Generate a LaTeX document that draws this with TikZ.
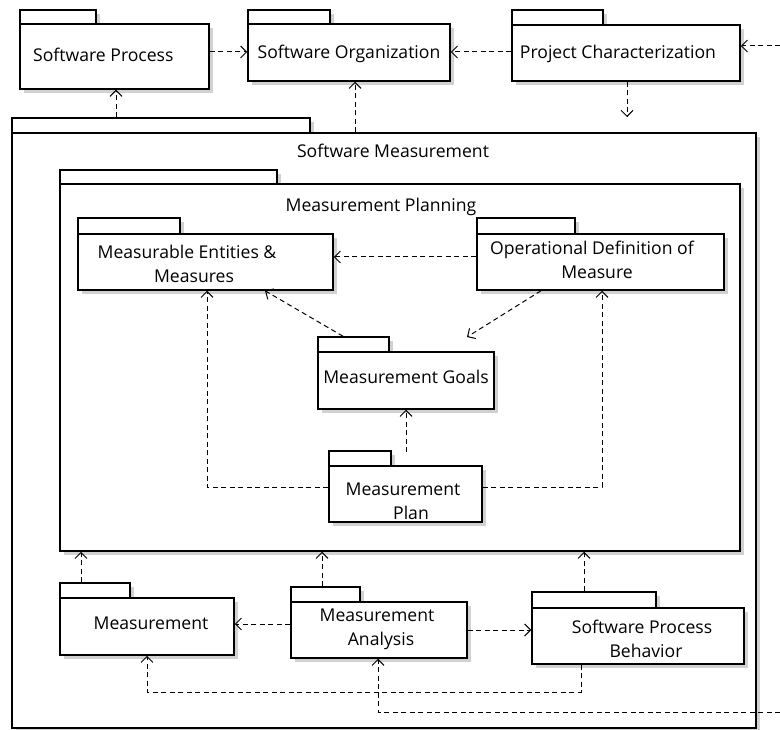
\documentclass[tikz,border=0pt]{standalone}
\usepackage{fontspec}
\setmainfont{Open Sans}
\usetikzlibrary{arrows.meta,fit}
\tikzset{
  pkgshadow/.style={fill=black!18},
  pkgtab/.style={draw, line width=1.5pt, fill=white, inner sep=0pt},
  pkgbody/.style={draw, line width=1.5pt, fill=white, inner sep=0pt},
  lbl/.style={font=\fontsize{17.6}{24}\selectfont, inner sep=0pt, align=center, yshift=-2pt},
  dep/.style={draw, line width=1pt, dash pattern=on 5pt off 3.5pt,
    -{Straight Barb[length=6pt,width=12pt,line width=1pt]}},
}
\newcommand\pkgbox[7]{%
  \fill[pkgshadow] (#2+4,#3+4) rectangle (#4+4,#5+4);
  \fill[pkgshadow] (#2+4,#5+4) rectangle (#6+4,#7+4);
  \node[pkgtab, fit={(#2,#3)(#4,#5)}] (#1tab) {};
  \node[pkgbody, fit={(#2,#5)(#6,#7)}] (#1) {};
}
\begin{document}
\begin{tikzpicture}[x=1pt,y=-1pt]
\useasboundingbox[fill=white] (0,0) rectangle (780,730);
% top row
\pkgbox{sp}{20}{10}{96}{24}{209}{89}
\pkgbox{so}{248}{10}{330}{24}{450}{81}
\pkgbox{pc}{512}{10}{603}{25}{740}{81}
% outer
\pkgbox{sm}{12}{118}{310}{133}{756}{728}
\pkgbox{mp}{60}{170}{277}{184}{740}{551}
% planning contents
\pkgbox{mem}{78}{218}{180}{234}{333}{290}
\pkgbox{odm}{477}{218}{575}{234}{724}{290}
\pkgbox{goals}{318}{337}{389}{352}{494}{409}
\pkgbox{plan}{329}{451}{391}{466}{482}{522}
% bottom row
\pkgbox{meas}{60}{583}{130}{598}{234}{655}
\pkgbox{ma}{291}{587}{360}{602}{467}{658}
\pkgbox{spb}{532}{592}{656}{608}{744}{664}

% labels
\node[lbl, anchor=west] (tsp) at (33,53) {Software Process};
\node[lbl] (tso) at (349,52) {Software Organization};
\node[lbl] (tpc) at (618,52) {Project Characterization};
\node[lbl] (tsm) at (393,149) {Software Measurement};
\node[lbl] (tmp) at (381,205) {Measurement Planning};
\node[lbl] (tmem) at (187,262) {Measurable Entities \&\\\hspace*{14pt}Measures};
\node[lbl] (todm) at (592,258) {Operational Definition of\\\hspace*{10pt}Measure};
\node[lbl] (tgoals) at (406,375) {Measurement Goals};
\node[lbl] (tplan) at (403,499) {Measurement\\\hspace*{16pt}Plan};
\node[lbl] (tmeas) at (151,621) {Measurement};
\node[lbl] (tma) at (377,627) {Measurement\\\hspace*{8pt}Analysis};
\node[lbl] (tspb) at (642,637) {Software Process\\\hspace*{8pt}Behavior};

% free ends
\coordinate (inA) at (780,46);
\coordinate (outA) at (627,117);
\coordinate (goalsNE) at (467,337);
\coordinate (planTop) at (406,452);
\coordinate (inB) at (780,712);

% connectors
\draw[dep] (sp.east |- 0,52) -- (so.west |- 0,52);
\draw[dep] (pc.west |- 0,52) -- (so.east |- 0,52);
\draw[dep] (inA) -- (pc.east |- inA);
\draw[dep] (627,0 |- pc.south) -- (outA);
\draw[dep] (116,0 |- smtab.north) -- (116,0 |- sp.south);
\draw[dep] (355,0 |- sm.north) -- (355,0 |- so.south);
\draw[dep] (odm.west |- 0,257) -- (mem.east |- 0,257);
\draw[dep] (343,0 |- goalstab.north) -- (265,0 |- mem.south);
\draw[dep] (541,0 |- odm.south) -- (goalsNE);
\draw[dep] (plan.west |- 0,487) -| (207,0 |- mem.south);
\draw[dep] (plan.east |- 0,487) -| (602,0 |- odm.south);
\draw[dep] (planTop) -- (406,0 |- goals.south);
\draw[dep] (81,0 |- meastab.north) -- (81,0 |- mp.south);
\draw[dep] (322,0 |- matab.north) -- (322,0 |- mp.south);
\draw[dep] (584,0 |- spbtab.north) -- (584,0 |- mp.south);
\draw[dep] (ma.west |- 0,624) -- (meas.east |- 0,624);
\draw[dep] (ma.east |- 0,630) -- (spb.west |- 0,630);
\draw[dep] (581,0 |- spb.south) |- (147,692) -- (147,0 |- meas.south);
\draw[dep] (inB) -| (378,0 |- ma.south);
\end{tikzpicture}
\end{document}
